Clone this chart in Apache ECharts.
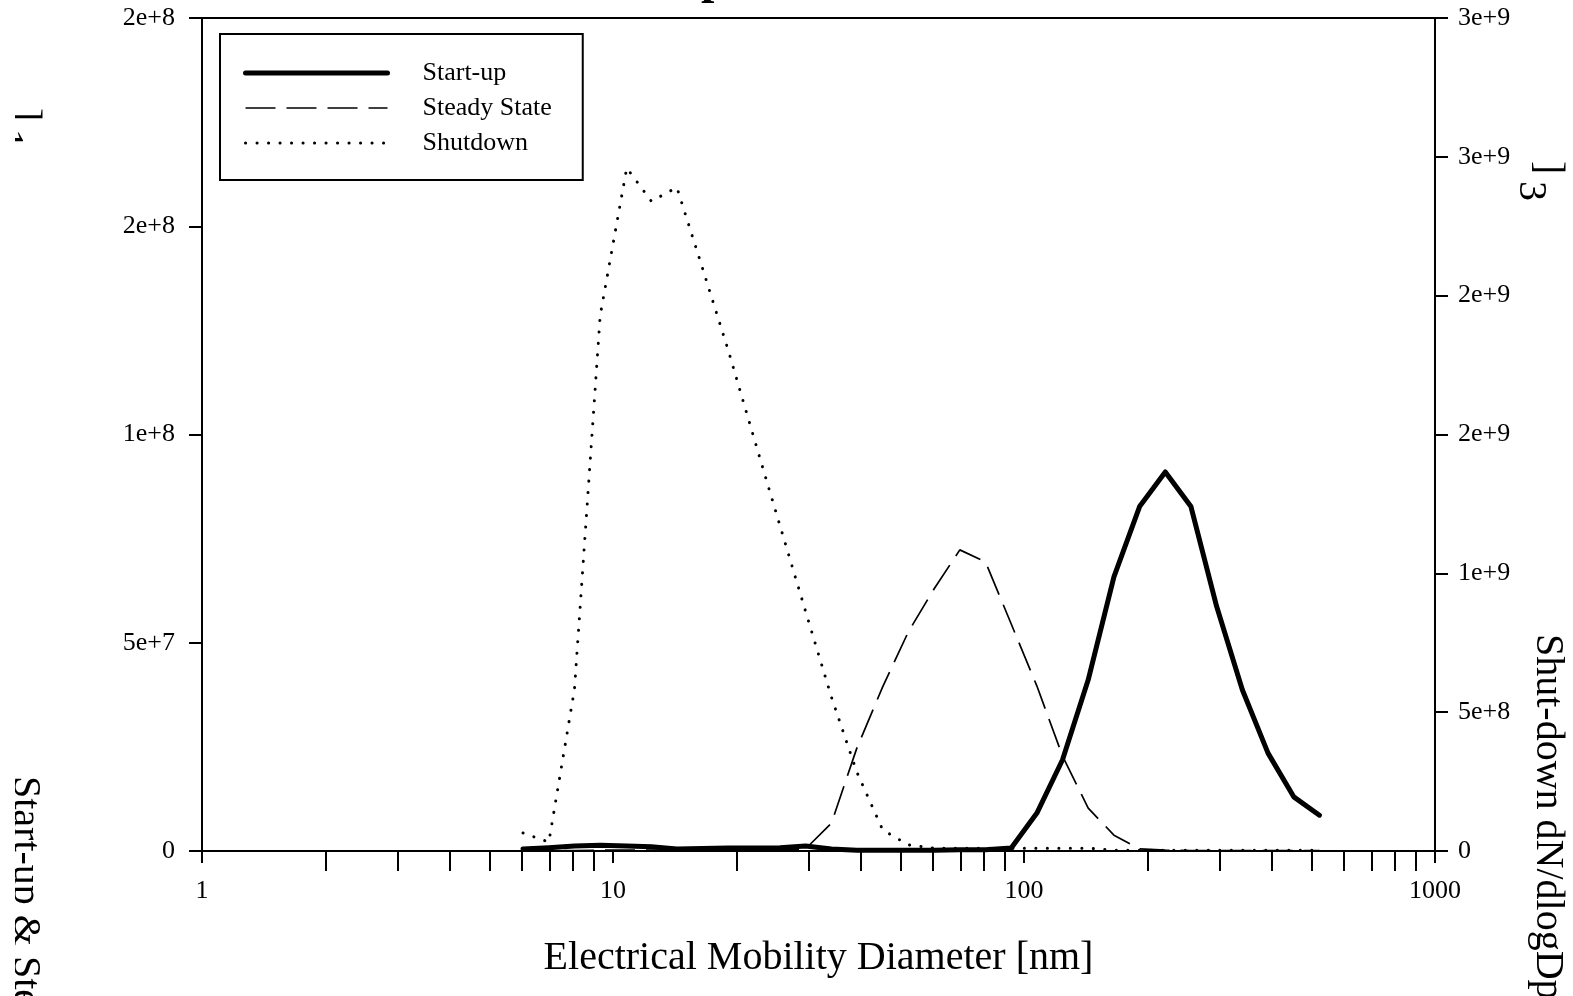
<!DOCTYPE html>
<html>
<head>
    <meta charset="utf-8">
    <title>Size distributions</title>
    <script src="https://cdn.jsdelivr.net/npm/echarts@6/dist/echarts.min.js"></script>
    <style>
        html, body {
            margin: 0;
            padding: 0;
            background: #fff;
        }

        #chart {
            width: 1573px;
            height: 996px;
        }
    </style>
</head>

<body>
    <div id="chart"></div>

    <script>
        // electrical mobility diameter [nm], SMPS channel midpoints
        var diameters = [6.04, 6.98, 8.06, 9.31, 10.8, 12.4, 14.3, 16.5, 19.1, 22.1, 25.5, 29.4, 34.0, 39.2, 45.3, 52.3,
            60.4, 69.8, 80.6, 93.1, 107.5, 124.1, 143.3, 165.5, 191.1, 220.7, 254.8, 294.3, 339.8, 392.4, 453.2, 523.3];

        // dN/dlogDp, left axis
        var startUp = [0.5e6, 0.8e6, 1.2e6, 1.4e6, 1.2e6, 1.0e6, 0.5e6, 0.6e6, 0.7e6, 0.7e6, 0.8e6, 1.2e6, 0.5e6, 0.2e6, 0.2e6, 0.2e6,
            0.2e6, 0.3e6, 0.3e6, 0.7e6, 9.1e6, 2.19e7, 4.11e7, 6.58e7, 8.27e7, 9.1e7, 8.27e7, 5.87e7, 3.87e7, 2.35e7, 1.30e7, 8.6e6];
        var steadyState = [0.1e6, 0.1e6, 0.1e6, 0.2e6, 0.2e6, 0.2e6, 0.2e6, 0.2e6, 0.2e6, 0.2e6, 0.3e6, 0.5e6, 6.7e6, 2.47e7, 3.94e7, 5.26e7,
            6.29e7, 7.23e7, 6.94e7, 5.45e7, 3.96e7, 2.28e7, 1.03e7, 3.8e6, 0.5e6, 0.2e6, 0.1e6, 0.1e6, 0.1e6, 0.1e6, 0.1e6, 0.1e6];
        // dN/dlogDp, right axis
        var shutdown = [6.5e7, 3.2e7, 5.83e8, 1.93e9, 2.46e9, 2.34e9, 2.39e9, 2.10e9, 1.80e9, 1.48e9, 1.17e9, 8.64e8, 5.54e8, 2.84e8, 7.6e7, 2.2e7,
            1.0e7, 1.0e7, 1.0e7, 1.0e7, 1.0e7, 1.0e7, 1.0e7, 3e6, 3e6, 3e6, 3e6, 3e6, 3e6, 3e6, 3e6, 3e6];

        var xTicks = [1, 10, 100, 1000];
        var minorTicks = [2, 3, 4, 5, 6, 7, 8, 9, 20, 30, 40, 50, 60, 70, 80, 90, 200, 300, 400, 500, 600, 700, 800, 900];

        var FONT = 'Liberation Serif';

        var solidLine = { color: '#000', width: 5, cap: 'round', join: 'round' };
        var dashLine = { color: '#000', width: 1.7, type: [30, 11] };
        var dotLine = { color: '#000', width: 3, type: [0.1, 11.4], cap: 'round' };

        function pairs(ys) {
            return diameters.map(function (d, i) { return [d, ys[i]]; });
        }

        function sciLabel(v) {
            return v === 0 ? '0' : v.toExponential(0);
        }

        var chart = echarts.init(document.getElementById('chart'));

        var labelStyle = { color: '#000', fontFamily: FONT, fontSize: 26 };
        var axisLine = { show: true, lineStyle: { color: '#000', width: 2 } };
        var noMark = { opacity: 0 };

        chart.setOption({
            animation: false,
            backgroundColor: '#fff',
            grid: {
                left: 202, right: 138, top: 18, bottom: 145,
                show: true, borderColor: '#000', borderWidth: 2, backgroundColor: 'transparent'
            },
            legend: {
                data: [
                    { name: 'Start-up', itemStyle: noMark, lineStyle: solidLine },
                    { name: 'Steady State', itemStyle: noMark, lineStyle: dashLine },
                    { name: 'Shutdown', itemStyle: noMark, lineStyle: dotLine }
                ],
                orient: 'vertical',
                left: 220,
                top: 34,
                itemWidth: 142,
                itemHeight: 14,
                itemGap: 9,
                padding: [26, 31, 24, 23],
                borderColor: '#000',
                borderWidth: 2,
                backgroundColor: '#fff',
                textStyle: { color: '#000', fontFamily: FONT, fontSize: 26, padding: [0, 0, 0, 30] }
            },
            xAxis: [{
                type: 'log',
                logBase: 10,
                min: 1,
                max: 1000,
                position: 'bottom',
                name: 'Electrical Mobility Diameter [nm]',
                nameLocation: 'middle',
                nameGap: 87,
                nameTextStyle: { color: '#000', fontFamily: FONT, fontSize: 40 },
                axisLine: axisLine,
                axisTick: { show: true, length: 12, customValues: xTicks, lineStyle: { color: '#000', width: 2 } },
                axisLabel: Object.assign({ margin: 27, customValues: xTicks, formatter: function (v) { return String(v); } }, labelStyle),
                splitLine: { show: false }
            }, {
                type: 'log',
                logBase: 10,
                min: 1,
                max: 1000,
                position: 'bottom',
                offset: 0,
                axisLine: { show: false },
                axisTick: { show: true, length: 20, customValues: minorTicks, lineStyle: { color: '#000', width: 2 } },
                axisLabel: { show: false },
                splitLine: { show: false }
            }],
            yAxis: [{
                type: 'value',
                min: 0,
                max: 2e8,
                interval: 5e7,
                position: 'left',
                axisLine: axisLine,
                axisTick: { show: true, length: 13, lineStyle: { color: '#000', width: 2 } },
                axisLabel: Object.assign({ margin: 27, formatter: sciLabel }, labelStyle),
                splitLine: { show: false }
            }, {
                type: 'value',
                min: 0,
                max: 3e9,
                interval: 5e8,
                position: 'right',
                axisLine: axisLine,
                axisTick: { show: true, length: 13, lineStyle: { color: '#000', width: 2 } },
                axisLabel: Object.assign({ margin: 23, formatter: sciLabel }, labelStyle),
                splitLine: { show: false }
            }],
            series: [{
                name: 'Shutdown',
                type: 'line',
                yAxisIndex: 1,
                symbol: 'none',
                data: pairs(shutdown),
                itemStyle: { color: '#000' },
                lineStyle: dotLine,
                z: 3
            }, {
                name: 'Steady State',
                type: 'line',
                yAxisIndex: 0,
                symbol: 'none',
                data: pairs(steadyState),
                itemStyle: { color: '#000' },
                lineStyle: dashLine,
                z: 4
            }, {
                name: 'Start-up',
                type: 'line',
                yAxisIndex: 0,
                symbol: 'none',
                data: pairs(startUp),
                itemStyle: { color: '#000' },
                lineStyle: solidLine,
                z: 5
            }],
            graphic: [
                // clipped pieces of the original titles
                { type: 'text', x: 701, y: -19, style: { text: 'p', fontFamily: FONT, fontWeight: 'bold', fontSize: 48, fill: '#000', align: 'left', verticalAlign: 'middle' } },
                { type: 'text', x: 24, y: 776, rotation: -Math.PI / 2, style: { text: 'Start-up & Steady State dN/dlogDp', fontFamily: FONT, fontSize: 40, fill: '#000', align: 'left', verticalAlign: 'middle' } },
                { type: 'text', x: 24, y: 108, rotation: -Math.PI / 2, style: { text: ']', fontFamily: FONT, fontSize: 40, fill: '#000', align: 'left', verticalAlign: 'middle' } },
                { type: 'text', x: 7, y: 129, rotation: -Math.PI / 2, style: { text: '1', fontFamily: FONT, fontSize: 40, fill: '#000', align: 'left', verticalAlign: 'middle' } },
                { type: 'rect', shape: { x: 0, y: 0, width: 15, height: 996 }, style: { fill: '#fff' }, z: 200 },
                { type: 'text', x: 1547, y: 634, rotation: -Math.PI / 2, style: { text: 'Shut-down dN/dlogDp', fontFamily: FONT, fontSize: 40, fill: '#000', align: 'left', verticalAlign: 'middle' } },
                { type: 'text', x: 1547, y: 161, rotation: -Math.PI / 2, style: { text: ']', fontFamily: FONT, fontSize: 40, fill: '#000', align: 'left', verticalAlign: 'middle' } },
                { type: 'text', x: 1530, y: 181, rotation: -Math.PI / 2, style: { text: '3', fontFamily: FONT, fontSize: 40, fill: '#000', align: 'left', verticalAlign: 'middle' } }
            ]
        });
    </script>
</body>
</html>
